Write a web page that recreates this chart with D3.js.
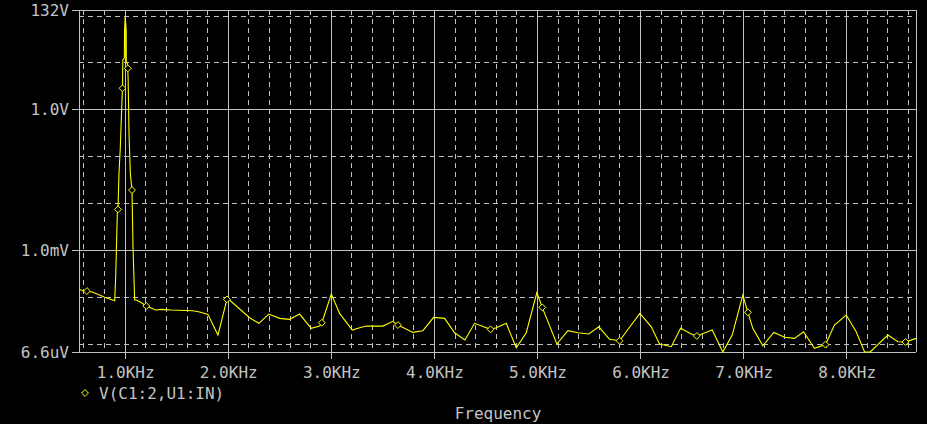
<!DOCTYPE html>
<html>
<head>
<meta charset="utf-8">
<script src="https://cdn.jsdelivr.net/npm/d3@7"></script>
<style>
  body { margin: 0; background: #000; }
  text { font-family: "DejaVu Sans Mono", monospace; font-size: 16px; fill: #c4c4c4; }
</style>
</head>
<body>
<div id="chart"></div>
<script>
// FFT of V(C1:2,U1:IN), frequency in KHz, magnitude in volts
var freqKHz = [0.557, 0.596, 0.634, 0.693, 0.806, 0.903, 0.913, 0.929, 0.935, 0.945, 0.958,
  0.974, 0.979, 0.982, 0.997, 0.999, 1.005, 1.015, 1.016, 1.028, 1.030, 1.034, 1.042, 1.055,
  1.071, 1.081, 1.097, 1.113, 1.162, 1.210, 1.300, 1.356, 1.453, 1.662, 1.727, 1.808, 1.905,
  1.992, 2.018, 2.212, 2.302, 2.399, 2.503, 2.600, 2.697, 2.810, 2.891, 2.913, 3.005, 3.085,
  3.208, 3.296, 3.350, 3.505, 3.602, 3.651, 3.796, 3.893, 3.997, 4.104, 4.201, 4.301, 4.395,
  4.550, 4.605, 4.702, 4.799, 4.896, 4.999, 5.051, 5.193, 5.300, 5.397, 5.503, 5.600, 5.704,
  5.801, 5.998, 6.109, 6.189, 6.303, 6.393, 6.497, 6.551, 6.700, 6.803, 6.894, 6.997, 7.046,
  7.094, 7.191, 7.298, 7.402, 7.498, 7.586, 7.692, 7.799, 7.886, 8.000, 8.097, 8.178, 8.233,
  8.404, 8.501, 8.575, 8.677];
var volts = [1.44e-4, 1.34e-4, 1.32e-4, 1.24e-4, 9.7e-5, 8.2e-5, 2.67e-4, 6.1e-3, 7.3e-3, 0.0436, 0.157,
  1.58, 2.81, 11.3, 12.4, 49.3, 93.5, 49.3, 10.2, 9.27, 7.5, 4.22, 0.312, 0.0436,
  0.0189, 1.15e-3, 8.5e-5, 8.5e-5, 7.43e-5, 6.32e-5, 5.19e-5, 5.37e-5, 5.19e-5, 5.01e-5, 4.70e-5, 4.20e-5, 1.52e-5,
  8.79e-5, 8.49e-5, 3.56e-5, 2.70e-5, 4.26e-5, 3.45e-5, 3.29e-5, 4.26e-5, 2.11e-5, 2.36e-5, 2.78e-5, 1.14e-4, 4.41e-5,
  1.94e-5, 2.22e-5, 2.36e-5, 2.36e-5, 2.98e-5, 2.48e-5, 1.73e-5, 1.88e-5, 3.62e-5, 3.45e-5, 1.70e-5, 1.19e-5, 2.70e-5,
  2.01e-5, 2.17e-5, 2.70e-5, 8.13e-6, 1.70e-5, 1.22e-4, 5.93e-5, 9.76e-6, 1.88e-5, 1.70e-5, 1.60e-5, 2.28e-5, 1.23e-5,
  1.15e-5, 4.41e-5, 2.28e-5, 9.76e-6, 8.55e-6, 2.11e-5, 1.60e-5, 1.45e-5, 1.94e-5, 6.4e-6, 1.52e-5, 1.08e-4, 4.64e-5,
  2.11e-5, 8.97e-6, 1.73e-5, 1.36e-5, 1.29e-5, 1.79e-5, 7.9e-6, 9.5e-6, 2.48e-5, 4.06e-5, 1.79e-5, 6.2e-6, 6.2e-6,
  1.52e-5, 1.09e-5, 1.08e-5, 1.29e-5];
// points that carry a trace marker
var markerKHz = [0.634, 0.935, 0.979, 1.030, 1.071, 1.210, 1.992, 2.913, 3.651, 4.550, 5.051,
  5.801, 6.551, 7.046, 7.799, 8.575];

var xTicks = [1, 2, 3, 4, 5, 6, 7, 8];
var xTickLabels = ["1.0KHz", "2.0KHz", "3.0KHz", "4.0KHz", "5.0KHz", "6.0KHz", "7.0KHz", "8.0KHz"];
var yTicks = [132, 1, 1e-3, 6.6e-6];
var yTickLabels = ["132V", "1.0V", "1.0mV", "6.6uV"];
var yMinor = [100, 10, 0.1, 0.01, 1e-4, 1e-5];
var traceName = "V(C1:2,U1:IN)";
var xTitle = "Frequency";

var width = 927, height = 424;
var plotLeft = 79, plotRight = 916, plotTop = 10, plotBottom = 352;
var gridColor = "#c0c0c0", traceColor = "#ffff00";

// scales
var x = d3.scaleLinear().domain([0.557, 8.677]).range([plotLeft, plotRight]);
var y = d3.scaleLog().domain([6.6e-6, 132]).range([plotBottom, plotTop]).clamp(true);
var px = function(v) { return Math.round(v) + 0.5; };

var svg = d3.select("#chart").append("svg")
    .attr("width", width)
    .attr("height", height)
    .style("background", "#000");

var data = freqKHz.map(function(f, i) { return {f: f, v: volts[i]}; });

// minor grid, dashed
var xMinor = d3.range(6, 87, 2).map(function(d) { return d / 10; })
    .filter(function(d) { return d % 1 !== 0; });
svg.append("g").selectAll("line")
    .data(xMinor)
  .enter().append("line")
    .attr("x1", function(d) { return px(x(d)); })
    .attr("x2", function(d) { return px(x(d)); })
    .attr("y1", plotTop).attr("y2", plotBottom)
    .attr("stroke", gridColor)
    .attr("stroke-dasharray", "5,4");
svg.append("g").selectAll("line")
    .data(yMinor)
  .enter().append("line")
    .attr("x1", plotLeft).attr("x2", plotRight)
    .attr("y1", function(d) { return px(y(d)); })
    .attr("y2", function(d) { return px(y(d)); })
    .attr("stroke", gridColor)
    .attr("stroke-dasharray", "5,4");

// major grid with ticks sticking out
svg.append("g").selectAll("line")
    .data(xTicks)
  .enter().append("line")
    .attr("x1", function(d) { return px(x(d)); })
    .attr("x2", function(d) { return px(x(d)); })
    .attr("y1", plotTop).attr("y2", plotBottom + 7)
    .attr("stroke", gridColor);
svg.append("g").selectAll("line")
    .data(yTicks)
  .enter().append("line")
    .attr("x1", plotLeft - 7).attr("x2", plotRight)
    .attr("y1", function(d) { return px(y(d)); })
    .attr("y2", function(d) { return px(y(d)); })
    .attr("stroke", gridColor);
svg.append("line")
    .attr("x1", px(plotLeft)).attr("x2", px(plotLeft))
    .attr("y1", plotTop).attr("y2", plotBottom)
    .attr("stroke", gridColor);
svg.append("line")
    .attr("x1", px(plotRight)).attr("x2", px(plotRight))
    .attr("y1", plotTop).attr("y2", plotBottom)
    .attr("stroke", gridColor);

// tick labels
svg.append("g").selectAll("text")
    .data(yTicks)
  .enter().append("text")
    .attr("x", 69)
    .attr("y", function(d) { return Math.round(y(d)) + 6; })
    .attr("text-anchor", "end")
    .text(function(d, i) { return yTickLabels[i]; });
svg.append("g").selectAll("text")
    .data(xTicks)
  .enter().append("text")
    .attr("x", function(d) { return x(d) + 1; })
    .attr("y", 378)
    .attr("text-anchor", "middle")
    .text(function(d, i) { return xTickLabels[i]; });

// the trace
svg.append("clipPath").attr("id", "plot")
  .append("rect")
    .attr("x", plotLeft).attr("y", plotTop - 1)
    .attr("width", plotRight - plotLeft + 1).attr("height", plotBottom - plotTop + 2);

var line = d3.line()
    .x(function(d) { return x(d.f); })
    .y(function(d) { return y(d.v); });

svg.append("path")
    .datum(data)
    .attr("clip-path", "url(#plot)")
    .attr("fill", "none")
    .attr("stroke", traceColor)
    .attr("stroke-width", 1.1)
    .attr("d", line);

var diamond = d3.symbol().type(d3.symbolDiamond2).size(30);
svg.append("g").selectAll("path")
    .data(data.filter(function(d) { return markerKHz.indexOf(d.f) >= 0; }))
  .enter().append("path")
    .attr("d", diamond)
    .attr("transform", function(d) { return "translate(" + x(d.f) + "," + y(d.v) + ")"; })
    .attr("fill", "#000")
    .attr("stroke", traceColor);

// legend and axis title
svg.append("path")
    .attr("d", diamond)
    .attr("transform", "translate(85,393)")
    .attr("fill", "#000")
    .attr("stroke", traceColor);
svg.append("text")
    .attr("x", 99).attr("y", 399)
    .text(traceName);
svg.append("text")
    .attr("x", 498).attr("y", 419)
    .attr("text-anchor", "middle")
    .text(xTitle);
</script>
</body>
</html>
